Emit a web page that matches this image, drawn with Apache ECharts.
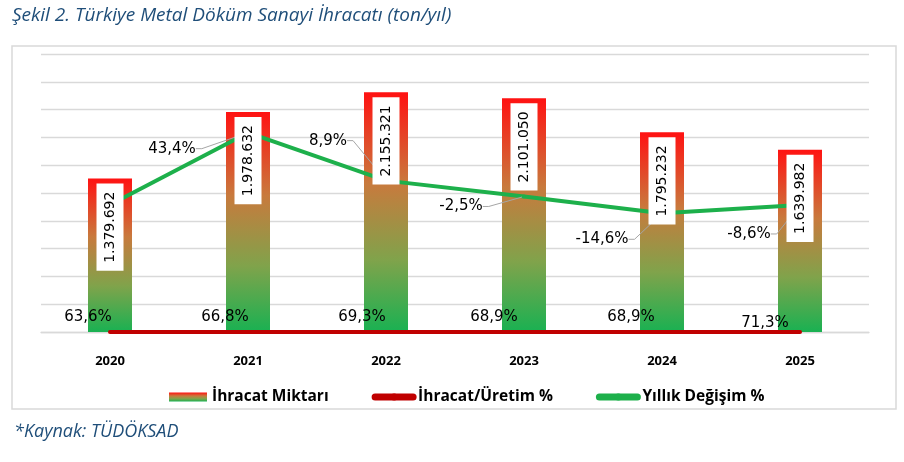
<!DOCTYPE html>
<html>
<head>
<meta charset="utf-8">
<script src="https://cdn.jsdelivr.net/npm/echarts@6/dist/echarts.min.js"></script>
<style>
  html, body { margin: 0; padding: 0; background: #fff; }
  #chart { width: 904px; height: 462px; }
</style>
</head>
<body>
<div id="chart"></div>
<script>
// grafikten okunan veriler
const years = ['2020', '2021', '2022', '2023', '2024', '2025'];
const exportTons = [1379692, 1978632, 2155321, 2101050, 1795232, 1639982]; // İhracat Miktarı (ton)
const exportShare = [63.6, 66.8, 69.3, 68.9, 68.9, 71.3];                 // İhracat/Üretim %
const yearlyChange = [-8.5, 43.4, 8.9, -2.5, -14.6, -8.6];                 // Yıllık Değişim %

// eksen aralıkları
const tonAxis = { min: 0, max: 2500000, interval: 250000 };
const pctAxis = { min: -100, max: 100 };

// etiket kaydırmaları (piksel) - veri değil, yerleşim
const shareLabelShift = [[-22, 0], [-23, 0], [-24, 0], [-30, 0], [-31, 0], [-35, 6]];
const changeLabelShift = [[0, 0], [-76, 16], [-58, -40], [-63, 10], [-60, 26], [-51, 29]];

const fmtTon = v => String(v).replace(/\B(?=(\d{3})+(?!\d))/g, '.');
const fmtPct = v => v.toFixed(1).replace('.', ',') + '%';

const titleBlue = '#1F4E79';
const gridGray = '#D9D9D9';

let myChart = echarts.init(document.getElementById('chart'));

const barGradient = new echarts.graphic.LinearGradient(0, 0, 0, 1, [
  { offset: 0, color: '#FF1212' },
  { offset: 0.38, color: '#C87A3D' },
  { offset: 0.7, color: '#80A34B' },
  { offset: 1, color: '#19B152' }
]);

let option = {
  animation: false,
  backgroundColor: '#fff',
  title: {
    text: 'Şekil 2. Türkiye Metal Döküm Sanayi İhracatı (ton/yıl)',
    left: 7,
    top: 1,
    textStyle: {
      fontFamily: 'Open Sans',
      fontStyle: 'italic',
      fontWeight: 'normal',
      fontSize: 19,
      color: titleBlue
    }
  },
  graphic: [
    {
      type: 'rect',
      z: -1,
      shape: { x: 12, y: 46, width: 884, height: 363 },
      style: { fill: 'none', stroke: gridGray, lineWidth: 1.5 }
    },
    {
      type: 'text',
      left: 14,
      top: 423,
      style: {
        text: '*Kaynak: TÜDÖKSAD',
        fontFamily: 'Open Sans',
        fontStyle: 'italic',
        fontSize: 18,
        fill: titleBlue
      }
    }
  ],
  legend: {
    left: 164,
    top: 384,
    itemWidth: 38,
    itemHeight: 9,
    itemGap: 43,
    textStyle: { fontFamily: 'Open Sans', fontWeight: 'bold', fontSize: 15.5, color: '#000' },
    data: [
      { name: 'İhracat Miktarı', icon: 'rect' },
      { name: 'İhracat/Üretim %', lineStyle: { width: 7, cap: 'round' } },
      { name: 'Yıllık Değişim %', lineStyle: { width: 7, cap: 'round' } }
    ]
  },
  grid: { left: 41, right: 35, top: 54, bottom: 130, outerBoundsMode: 'none' },
  xAxis: {
    type: 'category',
    data: years,
    axisLine: { show: true, lineStyle: { color: gridGray, width: 1.3 } },
    axisTick: { show: false },
    axisLabel: { fontFamily: 'Open Sans', fontWeight: 'bold', fontSize: 13, color: '#000', margin: 23 }
  },
  yAxis: [
    {
      type: 'value',
      min: tonAxis.min,
      max: tonAxis.max,
      interval: tonAxis.interval,
      axisLabel: { show: false },
      axisLine: { show: false },
      axisTick: { show: false },
      splitLine: { lineStyle: { color: gridGray, width: 1.3 } }
    },
    {
      type: 'value',
      min: pctAxis.min,
      max: pctAxis.max,
      show: false,
      splitLine: { show: false }
    }
  ],
  series: [
    {
      name: 'İhracat Miktarı',
      type: 'bar',
      barWidth: 44,
      barGap: '-100%',
      z: 2,
      itemStyle: { color: barGradient },
      emphasis: { disabled: true },
      data: exportTons
    },
    {
      name: 'İhracat/Üretim %',
      type: 'line',
      yAxisIndex: 0,
      z: 3,
      symbol: 'circle',
      symbolSize: 4,
      itemStyle: { color: '#C00000' },
      lineStyle: { color: '#C00000', width: 4 },
      label: {
        show: true,
        position: 'top',
        fontFamily: 'DejaVu Sans',
        fontSize: 15,
        color: '#000',
        formatter: p => fmtPct(exportShare[p.dataIndex])
      },
      emphasis: { disabled: true },
      data: exportShare.map((v, i) => ({ value: v / 100, label: { offset: shareLabelShift[i] } }))
    },
    {
      name: 'Yıllık Değişim %',
      type: 'line',
      yAxisIndex: 1,
      z: 4,
      symbol: 'circle',
      symbolSize: 4,
      itemStyle: { color: '#1DB04B' },
      lineStyle: { color: '#1DB04B', width: 4 },
      label: {
        show: true,
        position: 'inside',
        fontFamily: 'DejaVu Sans',
        fontSize: 15,
        color: '#000',
        formatter: p => fmtPct(p.value)
      },
      labelLayout: p => ({ dx: changeLabelShift[p.dataIndex][0], dy: changeLabelShift[p.dataIndex][1] }),
      labelLine: { show: true, length2: 6, lineStyle: { color: '#A6A6A6', width: 1 } },
      emphasis: { disabled: true },
      data: yearlyChange.map((v, i) => (i === 0 ? { value: v, label: { show: false }, labelLine: { show: false } } : v))
    },
    {
      // sadece çubuk etiketleri (çizgilerin üstünde kalsın diye)
      name: 'etiket',
      type: 'bar',
      barWidth: 44,
      barGap: '-100%',
      z: 5,
      silent: true,
      itemStyle: { color: 'rgba(0,0,0,0)' },
      label: {
        show: true,
        position: 'insideTop',
        distance: 5,
        rotate: 90,
        align: 'right',
        verticalAlign: 'middle',
        fontFamily: 'DejaVu Sans',
        fontSize: 14,
        color: '#000',
        backgroundColor: '#fff',
        padding: [7, 8, 6, 8],
        formatter: p => fmtTon(p.value)
      },
      emphasis: { disabled: true },
      data: exportTons
    }
  ]
};

myChart.setOption(option, true);
</script>
</body>
</html>
